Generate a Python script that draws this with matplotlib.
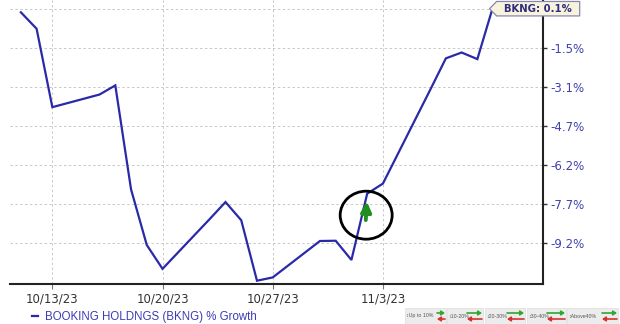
import numpy as np
import pandas as pd
import matplotlib
matplotlib.use("Agg")
import matplotlib.pyplot as plt
import matplotlib.dates as mdates
from matplotlib.path import Path
from matplotlib.patches import Ellipse
from matplotlib.transforms import ScaledTranslation
from matplotlib import font_manager

# ---------------- data ----------------
dates = pd.to_datetime([
    "2023-10-11", "2023-10-12", "2023-10-13", "2023-10-16", "2023-10-17",
    "2023-10-18", "2023-10-19", "2023-10-20", "2023-10-23", "2023-10-24",
    "2023-10-25", "2023-10-26", "2023-10-27", "2023-10-30", "2023-10-31",
    "2023-11-01", "2023-11-02", "2023-11-03", "2023-11-06", "2023-11-07",
    "2023-11-08", "2023-11-09", "2023-11-10"])
growth = [-0.13, -0.78, -3.88, -3.38, -3.02,
          -7.13, -9.33, -10.27, -8.30, -7.63,
          -8.35, -10.74, -10.61, -9.17, -9.16,
          -9.92, -7.30, -6.90, -3.20, -1.95,
          -1.72, -1.98, 0.10]
series_label = "BOOKING HOLDNGS (BKNG) % Growth"
last_label = "BKNG: 0.1%"
ytick_vals = [0.0, -1.54, -3.08, -4.62, -6.16, -7.70, -9.24]
ytick_labels = ["0.0%", "-1.5%", "-3.1%", "-4.7%", "-6.2%", "-7.7%", "-9.2%"]
xtick_dates = pd.to_datetime(["2023-10-13", "2023-10-20", "2023-10-27", "2023-11-03"])
xtick_labels = ["10/13/23", "10/20/23", "10/27/23", "11/3/23"]
signal_date = pd.Timestamp("2023-11-02")
signal_value = -7.30
range_labels = ["\u2195Up to 10%", "\u219510-20%", "\u219520-30%", "\u219530-40%", "\u2195Above40%"]

# ---------------- style ----------------
W, H = 620, 324
fig = plt.figure(figsize=(W / 100, H / 100), dpi=100)
ax = fig.add_axes([10 / W, 1 - 284 / H, (543 - 10) / W, 284 / H])

line_color = "#2a2aa8"
label_blue = "#4040b0"

(ln,) = ax.plot(dates, growth, color=line_color, lw=1.6, zorder=4, solid_joinstyle="miter")

x0 = mdates.date2num(pd.Timestamp("2023-10-13")) - 2.69
x1 = mdates.date2num(pd.Timestamp("2023-10-13")) + 31.17
ax.set_xlim(x0, x1)
ax.set_ylim(-10.87, 0.356)

ax.set_xticks(mdates.date2num(xtick_dates))
ax.set_xticklabels(xtick_labels)
ax.set_yticks(ytick_vals)
ax.set_yticklabels(ytick_labels)
ax.yaxis.tick_right()

for s in ["left", "top"]:
    ax.spines[s].set_visible(False)
for s in ["right", "bottom"]:
    ax.spines[s].set_color("#222222")
    ax.spines[s].set_linewidth(1.5)

ax.tick_params(axis="x", length=3.5, width=0.8, color="#777777", pad=2.5,
               labelsize=8.5, labelcolor="#333333")
ax.tick_params(axis="y", length=3, width=1, color="#333333", pad=2.5,
               labelsize=8.5, labelcolor=label_blue)
ax.grid(True, color="#c8c8c8", lw=0.7, ls=(0, (2.5, 2.5)))
ax.set_axisbelow(True)
ax.patch.set_alpha(0)


# tag-shaped box for the last-value label
def tag_box(x0, y0, width, height, mutation_size):
    padx = 0.75 * mutation_size
    pady = 0.22 * mutation_size
    xa, xb = x0 - padx, x0 + width + padx
    ya, yb = y0 - pady, y0 + height + pady
    tip = 0.7 * mutation_size
    verts = [(xa, ya), (xb, ya), (xb, yb), (xa, yb), (xa - tip, (ya + yb) / 2), (xa, ya)]
    codes = [Path.MOVETO] + [Path.LINETO] * 4 + [Path.CLOSEPOLY]
    return Path(verts, codes)


ax.annotate(last_label, xy=(dates[-1], growth[-1]), xycoords="data",
            xytext=(8, -1.6), textcoords="offset points",
            ha="left", va="center", fontsize=7.3, fontweight="bold",
            color="#2e2e80", zorder=10, annotation_clip=False,
            bbox=dict(boxstyle=tag_box, fc="#f8f3dc", ec="#8686b2", lw=0.9))

# green signal arrow with black circle
ax.annotate("", xy=(signal_date, signal_value), xycoords="data",
            xytext=(-1, -19), textcoords="offset points", zorder=6,
            arrowprops=dict(arrowstyle="-|>,head_length=0.6,head_width=0.3",
                            color="#1f8f1f", lw=2.8, shrinkA=0, shrinkB=5.5,
                            mutation_scale=10))
ell_tr = fig.dpi_scale_trans + ScaledTranslation(
    mdates.date2num(signal_date), signal_value, ax.transData)
ell = Ellipse((-0.01, -0.215), width=0.52, height=0.48, transform=ell_tr,
              fill=False, ec="black", lw=2.0, zorder=7)
ax.add_artist(ell)

# legend at bottom
fig.legend(handles=[ln], labels=[series_label], loc="center left",
           bbox_to_anchor=(32 / W, 1 - 317 / H), frameon=False,
           handlelength=0.55, handletextpad=0.6,
           labelcolor="#3c3cb4", borderaxespad=0, borderpad=0,
           prop={"family": "Liberation Sans", "size": 8.3})

# range boxes bottom right
installed = {f.name for f in font_manager.fontManager.ttflist}
small_family = ["Liberation Sans Narrow", "DejaVu Sans"] if "Liberation Sans Narrow" in installed \
    else ["Liberation Sans", "DejaVu Sans"]
small_size = 4.4 if "Liberation Sans Narrow" in installed else 3.8

item_x = [405, 447, 485, 527, 567]
item_end = [446, 483, 525, 566, 618]
arrow_start = [437, 467, 507, 547, 602]
for lab, xs, xe, xa in zip(range_labels, item_x, item_end, arrow_start):
    fig.patches.append(matplotlib.patches.Rectangle(
        (xs / W, 0), (xe - xs) / W, 16 / H, transform=fig.transFigure,
        fc="#ececec", ec="#dddddd", lw=0.5, zorder=0))
    fig.text((xs + 1.5) / W, 1 - 316 / H, lab, fontsize=small_size, color="#555555",
             ha="left", va="center", family=small_family)
    fig.add_artist(matplotlib.patches.FancyArrowPatch(
        (xa, H - 313), (xe - 1, H - 313), transform=None,
        arrowstyle="-|>,head_length=2,head_width=1.3", color="#2fa82f", lw=1.2,
        shrinkA=0, shrinkB=0))
    fig.add_artist(matplotlib.patches.FancyArrowPatch(
        (xe - 1, H - 319), (xa, H - 319), transform=None,
        arrowstyle="-|>,head_length=2,head_width=1.3", color="#d83030", lw=1.2,
        shrinkA=0, shrinkB=0))

fig.savefig("out.png", dpi=100)
